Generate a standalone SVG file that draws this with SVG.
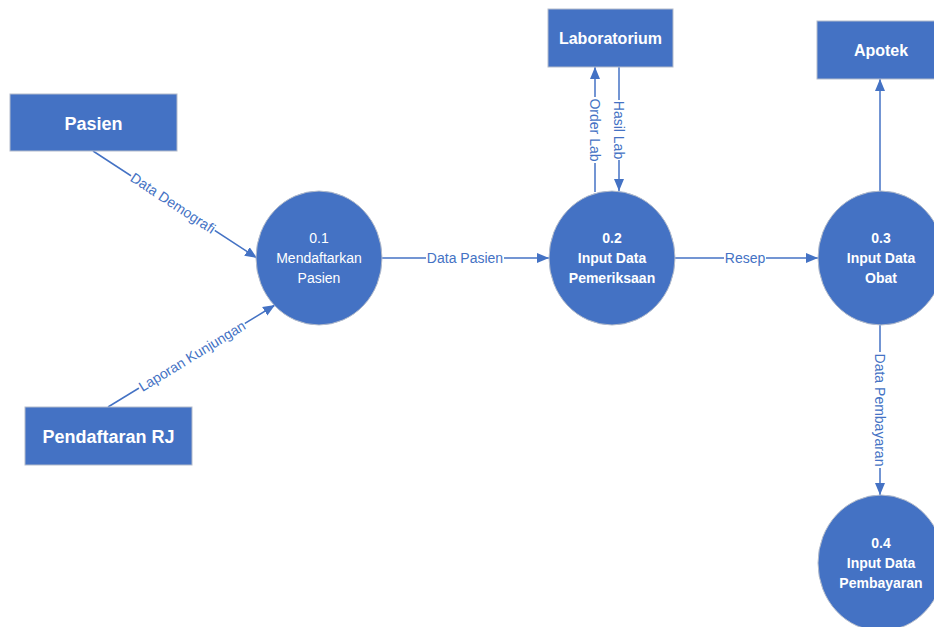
<svg xmlns="http://www.w3.org/2000/svg" width="934" height="627" viewBox="0 0 934 627">
<style>
.ent{fill:#4472C4;stroke:#B4BCCB;stroke-width:1}
.proc{fill:#4472C4;stroke:#B4BCCB;stroke-width:1}
.et{font-family:"Liberation Sans",Arial,sans-serif;font-weight:bold;fill:#fff;text-anchor:middle}
.pt{font-family:"Liberation Sans",Arial,sans-serif;font-size:14px;fill:#fff;text-anchor:middle}
.ptb{font-weight:bold}
.ln{stroke:#4472C4;stroke-width:1.5;fill:none;marker-end:url(#arr)}
.bg{fill:#fff}
.lb{font-family:"Liberation Sans",Arial,sans-serif;font-size:14px;fill:#4472C4;text-anchor:middle;dominant-baseline:central}
</style>
<defs>
<marker id="arr" markerUnits="userSpaceOnUse" markerWidth="12" markerHeight="12" refX="12" refY="6" orient="auto" viewBox="0 0 12 12">
<path d="M0,1 L12,6 L0,11 z" fill="#4472C4"/>
</marker>
</defs>
<rect width="934" height="627" fill="#fff"/>
<g id="connectors">
<line class="ln" x1="93" y1="151" x2="257" y2="258"/>
<line class="ln" x1="108" y1="407" x2="275" y2="305"/>
<line class="ln" x1="382" y1="258" x2="549" y2="258"/>
<line class="ln" x1="595" y1="192" x2="595" y2="67"/>
<line class="ln" x1="619" y1="67" x2="619" y2="191"/>
<line class="ln" x1="675" y1="258" x2="818" y2="258"/>
<line class="ln" x1="880" y1="191" x2="880" y2="79"/>
<line class="ln" x1="880" y1="325" x2="880" y2="495"/>
<g transform="translate(173,203) rotate(33.3)"><rect class="bg" x="-50" y="-6" width="100" height="12"/><text class="lb">Data Demografi</text></g>
<g transform="translate(192,356) rotate(-31.4)"><rect class="bg" x="-62" y="-6" width="124" height="12"/><text class="lb">Laporan Kunjungan</text></g>
<g transform="translate(465,258)"><rect class="bg" x="-39" y="-6" width="78" height="12"/><text class="lb">Data Pasien</text></g>
<g transform="translate(595,130) rotate(90)"><rect class="bg" x="-33" y="-6" width="66" height="12"/><text class="lb">Order Lab</text></g>
<g transform="translate(619,130) rotate(90)"><rect class="bg" x="-30" y="-6" width="60" height="12"/><text class="lb">Hasil Lab</text></g>
<g transform="translate(745,258)"><rect class="bg" x="-21" y="-6" width="42" height="12"/><text class="lb">Resep</text></g>
<g transform="translate(880,410) rotate(90)"><rect class="bg" x="-58" y="-6" width="116" height="12"/><text class="lb">Data Pembayaran</text></g>
</g>
<g id="pasien">
<rect class="ent" x="10" y="94" width="167" height="57"/>
<text class="et" x="93.5" y="129.5" font-size="18">Pasien</text>
</g>
<g id="pendaftaran-rj">
<rect class="ent" x="25" y="407" width="167" height="58"/>
<text class="et" x="108.5" y="442.5" font-size="18">Pendaftaran RJ</text>
</g>
<g id="laboratorium">
<rect class="ent" x="548" y="9" width="125" height="58"/>
<text class="et" x="610.5" y="44" font-size="16">Laboratorium</text>
</g>
<g id="apotek">
<rect class="ent" x="817" y="21" width="128" height="58"/>
<text class="et" x="881" y="56" font-size="16">Apotek</text>
</g>
<g id="p01">
<ellipse class="proc" cx="319" cy="258" rx="63" ry="67"/>
<text class="pt" x="319" y="243">0.1</text>
<text class="pt" x="319" y="263">Mendaftarkan</text>
<text class="pt" x="319" y="283">Pasien</text>
</g>
<g id="p02">
<ellipse class="proc" cx="612" cy="258" rx="63" ry="67"/>
<text class="pt ptb" x="612" y="243">0.2</text>
<text class="pt ptb" x="612" y="263">Input Data</text>
<text class="pt ptb" x="612" y="283">Pemeriksaan</text>
</g>
<g id="p03">
<ellipse class="proc" cx="881" cy="258" rx="63" ry="67"/>
<text class="pt ptb" x="881" y="243">0.3</text>
<text class="pt ptb" x="881" y="263">Input Data</text>
<text class="pt ptb" x="881" y="283">Obat</text>
</g>
<g id="p04">
<ellipse class="proc" cx="881" cy="563" rx="63" ry="68"/>
<text class="pt ptb" x="881" y="548">0.4</text>
<text class="pt ptb" x="881" y="568">Input Data</text>
<text class="pt ptb" x="881" y="588">Pembayaran</text>
</g>
</svg>
